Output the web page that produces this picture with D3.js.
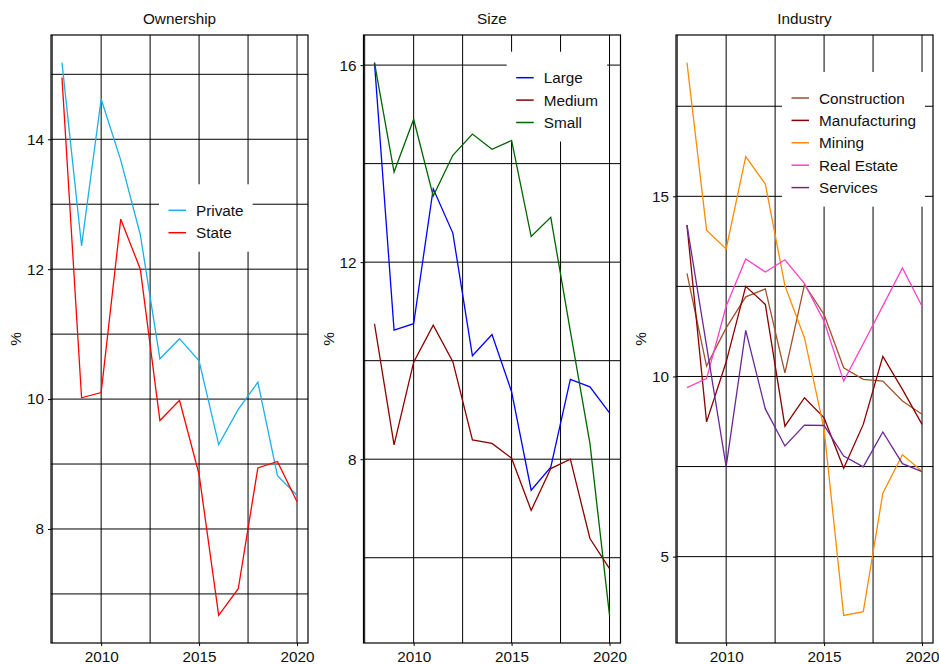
<!DOCTYPE html>
<html>
<head>
<meta charset="utf-8">
<script src="https://cdn.jsdelivr.net/npm/d3@7"></script>
<style>
  html, body { margin: 0; padding: 0; background: #fff; }
  svg { display: block; }
  text { font-family: "Liberation Sans", Arial, Helvetica, sans-serif; fill: #111; }
</style>
</head>
<body>
<svg id="chart" width="939" height="664"></svg>
<script>
// Years shared by every panel
const years = [2008, 2009, 2010, 2011, 2012, 2013, 2014, 2015, 2016, 2017, 2018, 2019, 2020];

// Ownership (%)
const ownershipPrivate = [15.18, 12.36, 14.62, 13.68, 12.53, 10.62, 10.93, 10.59, 9.30, 9.84, 10.26, 8.82, 8.52];
const ownershipState   = [14.95, 10.02, 10.10, 12.77, 12.00, 9.67, 9.98, 8.84, 6.67, 7.08, 8.94, 9.04, 8.42];

// Size (%)
const sizeLarge  = [16.05, 10.62, 10.75, 13.49, 12.59, 10.10, 10.53, 9.37, 7.37, 7.84, 9.62, 9.47, 8.94];
const sizeMedium = [10.75, 8.29, 9.97, 10.72, 9.98, 8.39, 8.32, 8.02, 6.96, 7.81, 8.00, 6.39, 5.78];
const sizeSmall  = [16.05, 13.83, 14.90, 13.34, 14.17, 14.60, 14.29, 14.47, 12.52, 12.91, 10.60, 8.32, 4.83];

// Industry (%)
const industryConstruction  = [12.86, 10.29, 11.35, 12.21, 12.43, 10.10, 12.55, 11.72, 10.24, 9.92, 9.87, 9.32, 8.95];
const industryManufacturing = [14.20, 8.74, 10.40, 12.50, 12.00, 8.62, 9.41, 8.85, 7.45, 8.67, 10.56, 9.64, 8.67];
const industryMining        = [18.71, 14.06, 13.54, 16.10, 15.34, 12.52, 11.07, 8.53, 3.37, 3.47, 6.76, 7.83, 7.37];
const industryRealEstate    = [9.69, 9.94, 11.95, 13.26, 12.90, 13.24, 12.58, 11.53, 9.87, 10.91, 11.96, 13.01, 11.95];
const industryServices      = [14.20, 10.85, 7.50, 11.28, 9.10, 8.07, 8.65, 8.64, 7.79, 7.49, 8.46, 7.58, 7.36];

// Axis ticks and grid positions
const xTickLabels = [2010, 2015, 2020];
const xGrid = [2007.5, 2010, 2012.5, 2015, 2017.5, 2020];
const ownershipTicks = [8, 10, 12, 14];
const ownershipGrid = [7, 8, 9, 10, 11, 12, 13, 14, 15];
const sizeTicks = [8, 12, 16];
const sizeGrid = [6, 8, 10, 12, 14, 16];
const industryTicks = [5, 10, 15];
const industryGrid = [5, 7.5, 10, 12.5, 15, 17.5];

const panels = [
  {
    title: "Ownership", left: 51, ticks: ownershipTicks, grid: ownershipGrid, legend: [108, 149.3],
    series: [
      { name: "Private", values: ownershipPrivate, color: "#1AB0E8" },
      { name: "State", values: ownershipState, color: "#FF0000" }
    ]
  },
  {
    title: "Size", left: 363.5, ticks: sizeTicks, grid: sizeGrid, legend: [143.2, 16.7],
    series: [
      { name: "Large", values: sizeLarge, color: "#0000FF" },
      { name: "Medium", values: sizeMedium, color: "#8B0000" },
      { name: "Small", values: sizeSmall, color: "#006400" }
    ]
  },
  {
    title: "Industry", left: 676, ticks: industryTicks, grid: industryGrid, legend: [106, 37],
    series: [
      { name: "Construction", values: industryConstruction, color: "#A0522D" },
      { name: "Manufacturing", values: industryManufacturing, color: "#8B0000" },
      { name: "Mining", values: industryMining, color: "#FF8C00" },
      { name: "Real Estate", values: industryRealEstate, color: "#FF40C8" },
      { name: "Services", values: industryServices, color: "#6A2896" }
    ]
  }
];

const svg = d3.select("#chart");
const plotTop = 35, plotBottom = 643, plotW = 257;
const FONT = "15.3px";

function padded(extent, frac) {
  const span = extent[1] - extent[0];
  return [extent[0] - span * frac, extent[1] + span * frac];
}

const xDomain = padded(d3.extent(years), 0.0467);

panels.forEach(p => {
  const g = svg.append("g");
  const x = d3.scaleLinear().domain(xDomain).range([p.left, p.left + plotW]);
  const allVals = p.series.flatMap(s => s.values);
  const y = d3.scaleLinear().domain(padded(d3.extent(allVals), 0.05)).range([plotBottom, plotTop]);

  // grid lines
  g.append("g").selectAll("line").data(xGrid).join("line")
    .attr("x1", d => x(d)).attr("x2", d => x(d))
    .attr("y1", plotTop).attr("y2", plotBottom)
    .attr("stroke", "#000").attr("stroke-width", 1);
  g.append("g").selectAll("line").data(p.grid).join("line")
    .attr("x1", p.left).attr("x2", p.left + plotW)
    .attr("y1", d => y(d)).attr("y2", d => y(d))
    .attr("stroke", "#000").attr("stroke-width", 1);

  // legend box, laid over the grid before the data lines are drawn
  const lg = g.append("g").attr("transform", `translate(${p.left + p.legend[0]},${plotTop + p.legend[1]})`);
  const rect = lg.append("rect").attr("fill", "#fff");
  let maxW = 0;
  p.series.forEach((s, i) => {
    const cy = 26 + i * 22.4;
    lg.append("line").attr("x1", 9.5).attr("x2", 27).attr("y1", cy).attr("y2", cy)
      .attr("stroke", s.color).attr("stroke-width", 1.5);
    const t = lg.append("text").attr("x", 37).attr("y", cy).attr("dy", "0.36em")
      .style("font-size", FONT).text(s.name);
    maxW = Math.max(maxW, t.node().getComputedTextLength());
  });
  rect.attr("x", 0).attr("y", 0).attr("width", 37 + maxW + 9)
    .attr("height", 26 + (p.series.length - 1) * 22.4 + 19);

  // series lines
  const line = d3.line().x((d, i) => x(years[i])).y(d => y(d));
  p.series.forEach(s => {
    g.append("path").datum(s.values).attr("d", line)
      .attr("fill", "none").attr("stroke", s.color).attr("stroke-width", 1.3)
      .attr("stroke-linejoin", "miter");
  });

  // frame
  g.append("rect").attr("x", p.left).attr("y", plotTop).attr("width", plotW).attr("height", plotBottom - plotTop)
    .attr("fill", "none").attr("stroke", "#000").attr("stroke-width", 1.2);

  // axes
  const ya = g.append("g").attr("transform", `translate(${p.left},0)`)
    .call(d3.axisLeft(y).tickValues(p.ticks).tickSize(3).tickPadding(4).tickFormat(d3.format("d")));
  ya.select(".domain").remove();
  ya.selectAll("text").style("font-size", FONT).attr("fill", "#111");

  const xa = g.append("g").attr("transform", `translate(0,${plotBottom})`)
    .call(d3.axisBottom(x).tickValues(xTickLabels).tickSize(3).tickPadding(5).tickFormat(d3.format("d")));
  xa.select(".domain").remove();
  xa.selectAll("text").style("font-size", FONT).attr("fill", "#111");

  // title and unit label
  g.append("text").attr("x", p.left + plotW / 2).attr("y", 24).attr("text-anchor", "middle")
    .style("font-size", FONT).text(p.title);
  g.append("text").attr("transform", `translate(${p.left - 30},${(plotTop + plotBottom) / 2}) rotate(-90)`)
    .attr("text-anchor", "middle").style("font-size", FONT).text("%");
});
</script>
</body>
</html>
